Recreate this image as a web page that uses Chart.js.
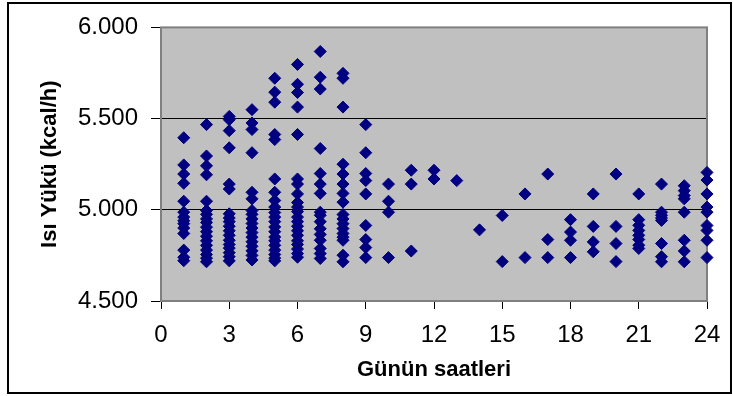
<!DOCTYPE html>
<html>
<head>
<meta charset="utf-8">
<script src="https://cdn.jsdelivr.net/npm/chart.js@4.4.0/dist/chart.umd.min.js"></script>
<style>
  html, body { margin: 0; padding: 0; background: #fff; }
  #wrap { width: 733px; height: 396px; }
</style>
</head>
<body>
<div id="wrap"><canvas id="myChart" width="733" height="396"></canvas></div>
<script>
// hourly heat load readings, kcal/h
const hours = [1, 2, 3, 4, 5, 6, 7, 8, 9, 10, 11, 12, 13, 14, 15, 16, 17, 18, 19, 20, 21, 22, 23, 24];
const loads = [
  [5395, 5246, 5196, 5145, 5047, 4987, 4960, 4940, 4924, 4900, 4870, 4779, 4740, 4721],
  [5467, 5295, 5241, 5192, 5047, 4996, 4975, 4950, 4930, 4905, 4880, 4855, 4830, 4805, 4779, 4755, 4735, 4715],
  [5512, 5494, 5434, 5340, 5141, 5114, 4978, 4955, 4935, 4910, 4885, 4860, 4833, 4810, 4790, 4765, 4743, 4720],
  [5549, 5476, 5440, 5313, 5096, 5060, 4996, 4975, 4950, 4925, 4900, 4875, 4850, 4825, 4800, 4775, 4750, 4725],
  [5721, 5645, 5590, 5413, 5385, 5169, 5096, 5051, 5015, 4985, 4960, 4935, 4906, 4880, 4851, 4830, 4805, 4779, 4755, 4735, 4720],
  [5797, 5688, 5643, 5563, 5413, 5169, 5141, 5087, 5040, 5015, 4990, 4960, 4935, 4910, 4885, 4860, 4830, 4810, 4785, 4760, 4740],
  [5868, 5727, 5662, 5336, 5199, 5141, 5090, 4987, 4970, 4935, 4896, 4865, 4833, 4788, 4760, 4733],
  [5748, 5721, 5563, 5250, 5196, 5141, 5090, 5042, 4974, 4950, 4924, 4897, 4870, 4850, 4833, 4751, 4715],
  [5467, 5313, 5199, 5160, 5087, 4914, 4837, 4793, 4738],
  [5141, 5047, 4987, 4738],
  [5217, 5141, 4774],
  [5217, 5169],
  [5160],
  [4890],
  [4969, 4716],
  [5087, 4738],
  [5196, 4837, 4738],
  [4946, 4878, 4833, 4738],
  [5087, 4909, 4824, 4770],
  [5196, 4909, 4815, 4716],
  [5087, 4946, 4915, 4887, 4860, 4837, 4806, 4788],
  [5141, 4987, 4970, 4955, 4942, 4815, 4743, 4715],
  [5132, 5105, 5078, 5060, 4987, 4833, 4774, 4715],
  [5205, 5163, 5087, 5015, 4987, 4914, 4887, 4833, 4738]
];
const xTicks = [0, 3, 6, 9, 12, 15, 18, 21, 24];
const yTicks = [4500, 5000, 5500, 6000];
const xTitle = 'Günün saatleri';
const yTitle = 'Isı Yükü (kcal/h)';

let points = [];
hours.forEach(function (h, i) {
  loads[i].forEach(function (v) {
    points.push({ x: h, y: v });
  });
});

function trNumber(v) {
  return String(v).replace(/\B(?=(\d{3})+(?!\d))/g, '.');
}

const FONT = "'Liberation Sans', Arial, sans-serif";

// gray plot area + frame + outer box, like the old Excel chart
const excelLook = {
  id: 'excelLook',
  beforeDraw(chart) {
    const a = chart.chartArea, c = chart.ctx;
    c.save();
    c.fillStyle = '#fff';
    c.fillRect(0, 0, chart.width, chart.height);
    c.fillStyle = '#c0c0c0';
    c.fillRect(a.left, a.top, a.right - a.left, a.bottom - a.top);
    c.restore();
  },
  beforeDatasetsDraw(chart) {
    const a = chart.chartArea, c = chart.ctx;
    c.save();
    c.strokeStyle = '#808080';
    c.lineWidth = 2;
    c.strokeRect(a.left, a.top, a.right - a.left, a.bottom - a.top);
    c.restore();
  },
  afterDraw(chart) {
    const c = chart.ctx;
    c.save();
    c.strokeStyle = '#000';
    c.lineWidth = 2;
    c.strokeRect(8, 3, 723, 390);
    c.restore();
  }
};

var ctx = document.getElementById('myChart').getContext('2d');
var myChart = new Chart(ctx, {
  type: 'scatter',
  data: {
    datasets: [{
      data: points,
      pointStyle: 'rectRot',
      pointRadius: 6,
      pointHoverRadius: 6,
      borderWidth: 1,
      backgroundColor: '#000080',
      borderColor: '#000080',
      clip: false
    }]
  },
  plugins: [excelLook],
  options: {
    responsive: false,
    animation: false,
    layout: { padding: { top: 25, right: 26, left: 0, bottom: 0 } },
    plugins: { legend: { display: false }, tooltip: { enabled: false } },
    scales: {
      x: {
        type: 'linear',
        min: 0,
        max: 24,
        afterFit(scale) { scale.height = 95; },
        afterBuildTicks(scale) { scale.ticks = xTicks.map(v => ({ value: v })); },
        grid: { drawOnChartArea: false, tickLength: 8, tickColor: '#000', tickWidth: 1 },
        border: { display: false },
        ticks: { color: '#000', padding: 12, maxRotation: 0, font: { family: FONT, size: 24 } },
        title: { display: true, text: xTitle, color: '#000', padding: { top: 0, bottom: 13 }, font: { family: FONT, size: 22, weight: 'bold' } }
      },
      y: {
        min: 4500,
        max: 6000,
        afterFit(scale) { scale.width = 161; },
        afterBuildTicks(scale) { scale.ticks = yTicks.map(v => ({ value: v })); },
        grid: {
          color: function (c) { return (c.tick && (c.tick.value === 5000 || c.tick.value === 5500)) ? '#000' : 'rgba(0,0,0,0)'; },
          lineWidth: 1,
          tickLength: 10,
          tickColor: '#000',
          tickWidth: 1
        },
        border: { display: false },
        ticks: { color: '#000', padding: 13, font: { family: FONT, size: 24 }, callback: v => trNumber(v) },
        title: { display: true, text: yTitle, color: '#000', padding: { top: 37, bottom: 0 }, font: { family: FONT, size: 22, weight: 'bold' } }
      }
    }
  }
});
</script>
</body>
</html>
